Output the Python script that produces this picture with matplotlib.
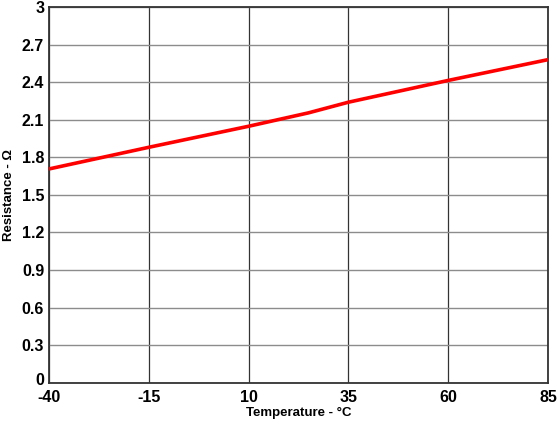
import matplotlib.pyplot as plt
import matplotlib.transforms as mtransforms

plt.rcParams['font.family'] = ['Liberation Sans', 'DejaVu Sans']
plt.rcParams['axes.unicode_minus'] = False

# Resistance vs temperature
temp = [-40, -15, 10, 25, 35, 60, 85]
resistance = [1.707, 1.88, 2.048, 2.155, 2.24, 2.414, 2.58]

xticks = [-40, -15, 10, 35, 60, 85]
yticks = [0, 0.3, 0.6, 0.9, 1.2, 1.5, 1.8, 2.1, 2.4, 2.7, 3]
ylabels = ['0', '0.3', '0.6', '0.9', '1.2', '1.5', '1.8', '2.1', '2.4', '2.7', '3']

fig = plt.figure(figsize=(5.6, 4.23), dpi=100)
ax = fig.add_axes([0.0875, 0.0953, 0.891, 0.888])

ax.plot(temp, resistance, color='#ff0000', linewidth=2.6, solid_capstyle='butt', zorder=3)

ax.set_xlim(-40, 85)
ax.set_ylim(0, 3)
ax.set_xticks(xticks)
ax.set_yticks(yticks)
ax.set_yticklabels(ylabels)
ax.grid(True, axis='x', color='#333333', linewidth=0.9)
ax.grid(True, axis='y', color='#8c8c8c', linewidth=1.0)
ax.tick_params(length=0, labelsize=11.5)
ax.tick_params(axis='x', pad=5)
ax.tick_params(axis='y', pad=3.5)
for lbl in ax.get_xticklabels() + ax.get_yticklabels():
    lbl.set_fontweight('bold')
for s in ax.spines.values():
    s.set_color('#333333')
    s.set_linewidth(1.3)

# nudge the "0" label up a little so it clears "-40"
zero = ax.get_yticklabels()[0]
zero.set_transform(zero.get_transform() + mtransforms.ScaledTranslation(0, 2.5 / 72, fig.dpi_scale_trans))

ax.set_xlabel('Temperature - °C', fontsize=9.5, fontweight='bold', labelpad=2)
ax.set_ylabel('Resistance - Ω', fontsize=9.5, fontweight='bold', labelpad=5)

fig.savefig('out.png', dpi=100)
